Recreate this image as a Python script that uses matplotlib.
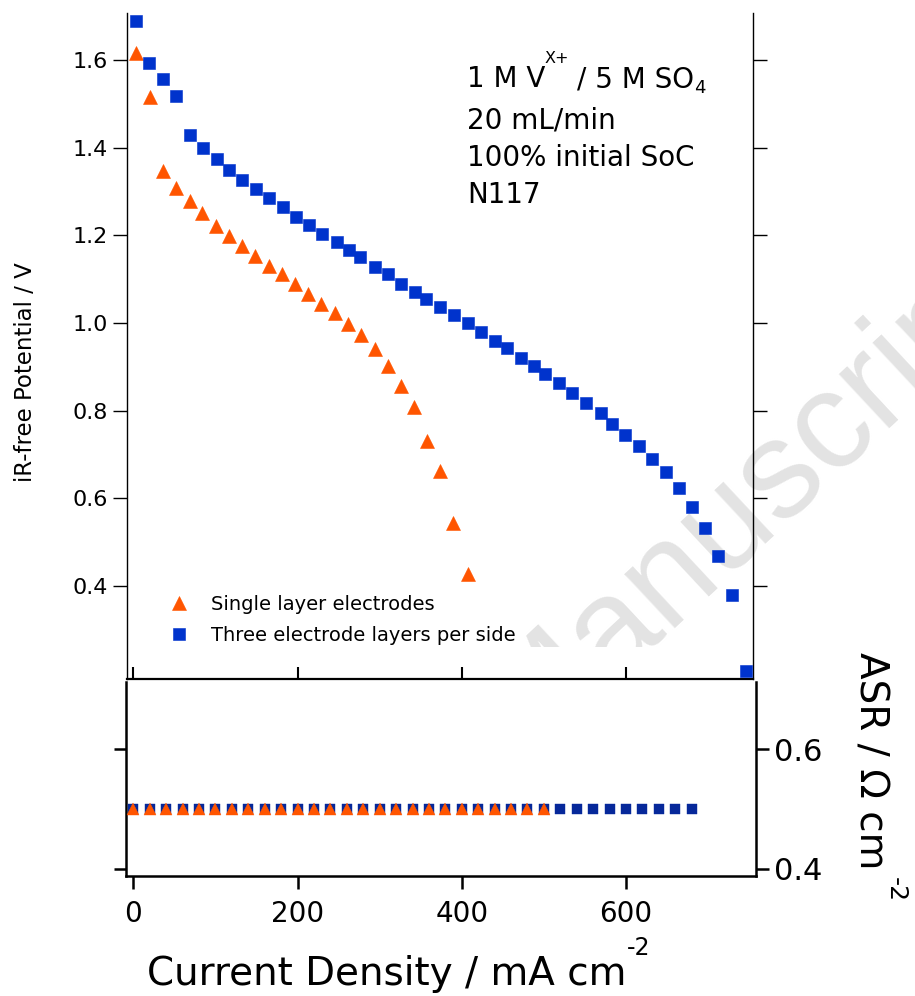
import matplotlib
matplotlib.use("Agg")
import matplotlib.pyplot as plt
from matplotlib.transforms import Bbox, TransformedBbox

# ---------------- data ----------------
single_x = [3, 20, 35.5, 52, 69, 83.5, 100, 116, 132, 148.5, 165, 181, 196.5, 212.5,
            229, 245, 261, 277, 294, 310, 325.5, 342, 358, 374, 389.5, 407]
single_v = [1.615, 1.516, 1.347, 1.307, 1.278, 1.250, 1.221, 1.198, 1.175, 1.152,
            1.130, 1.111, 1.090, 1.067, 1.044, 1.022, 0.997, 0.973, 0.941, 0.901,
            0.857, 0.808, 0.730, 0.663, 0.544, 0.427]

three_x = [3.4, 19.3, 35.9, 51.8, 68.8, 84.3, 101.3, 116.7, 132.5, 149.2, 165, 181.7,
           197.9, 214, 230.3, 247.5, 262, 275.9, 294, 310, 326.5, 343, 356.5, 373,
           391, 408, 423.5, 440.7, 455.3, 471.8, 487.5, 501.7, 518.4, 534, 550.8, 569,
           583.2, 599.2, 615.9, 631.5, 648.2, 665, 680.8, 696.6, 711.7, 729, 746]
three_v = [1.688, 1.593, 1.556, 1.518, 1.429, 1.400, 1.373, 1.349, 1.326, 1.306, 1.285,
           1.265, 1.242, 1.223, 1.204, 1.185, 1.166, 1.150, 1.128, 1.112, 1.090, 1.071,
           1.054, 1.036, 1.018, 0.999, 0.980, 0.958, 0.942, 0.921, 0.902, 0.883, 0.862,
           0.840, 0.818, 0.794, 0.770, 0.745, 0.719, 0.689, 0.659, 0.623, 0.581, 0.533,
           0.469, 0.379, 0.206]

asr_single_x = [0, 20, 40, 60, 80, 100, 120, 140, 160, 180, 200, 220, 240, 260, 280,
                300, 320, 340, 360, 380, 400, 420, 440, 460, 480, 500]
asr_single = [0.5] * len(asr_single_x)
asr_three_x = [0, 20, 40, 60, 80, 100, 120, 140, 160, 180, 200, 220, 240, 260, 280,
               300, 320, 340, 360, 380, 400, 420, 440, 460, 480, 500, 520, 540, 560,
               580, 600, 620, 640, 660, 680]
asr_three = [0.5] * len(asr_three_x)

v_ticks = [0.4, 0.6, 0.8, 1.0, 1.2, 1.4, 1.6]
v_ticklabels = ["0.4", "0.6", "0.8", "1.0", "1.2", "1.4", "1.6"]
x_ticks = [0, 200, 400, 600]
asr_ticks = [0.4, 0.6]
asr_ticklabels = ["0.4", "0.6"]

label_single = "Single layer electrodes"
label_three = "Three electrode layers per side"
notes = ["20 mL/min", "100% initial SoC", "N117"]

ORANGE = "#ff5500"
BLUE = "#0033cc"
NAVY = "#06289a"

plt.rcParams['font.family'] = ['DejaVu Sans']
W, H = 915, 996
fig = plt.figure(figsize=(W / 100, H / 100), dpi=100)
renderer = fig.canvas.get_renderer()


def fx(px):
    return px / W


def fy(py):
    return 1 - py / H


# watermark (behind everything)
wm = fig.text(fx(525), fy(758), "Manuscript", fontsize=100, color="#e3e3e3",
              family="Liberation Sans", rotation=43, rotation_mode="anchor",
              ha="left", va="baseline", zorder=-5)
wm.set_clip_box(TransformedBbox(Bbox([[0, fy(647)], [1, 1]]), fig.transFigure))
wm.set_clip_on(True)

# ---------------- top panel ----------------
ax = fig.add_axes([fx(127), fy(679), (753 - 127) / W, (679 - 13) / H])
ax.set_facecolor("none")
ax.plot(single_x, single_v, ls="none", marker="^", ms=9.8, color=ORANGE, mec=ORANGE,
        mew=0.4, label=label_single, zorder=3)
ax.plot(three_x, three_v, ls="none", marker="s", ms=9.0, color=BLUE, mec=BLUE,
        mew=0.4, label=label_three, zorder=3)
ax.set_xlim(-7.8, 754.7)
ax.set_ylim(0.1878, 1.7072)
ax.spines["top"].set_visible(False)
for s in ("left", "right"):
    ax.spines[s].set_linewidth(1.0)
ax.spines["bottom"].set_linewidth(1.6)
ax.set_yticks(v_ticks)
ax.set_yticklabels(v_ticklabels)
ax.yaxis.set_ticks_position("both")
ax.tick_params(axis="y", direction="out", labelleft=True, labelright=False,
               length=10, width=1.0, labelsize=16, pad=3.5)
ax.set_xticks(x_ticks)
ax.tick_params(axis="x", direction="in", bottom=True, top=False, labelbottom=False,
               length=9, width=1.5)

ax.legend(loc="upper left", bbox_to_anchor=(fx(169), fy(595)),
          bbox_transform=fig.transFigure, frameon=False, fontsize=14,
          handlelength=1.0, handletextpad=1.15, borderpad=0, borderaxespad=0,
          labelspacing=0.6, markerscale=1.0)

# annotation text: first line built from pieces (superscript / subscript)
t1 = fig.text(fx(467), fy(87), "1 M V", fontsize=20, ha="left", va="baseline")
e1 = t1.get_window_extent(renderer)
t2 = fig.text((e1.x1 - 1) / W, fy(63), "X+", fontsize=11.5, ha="left", va="baseline")
e2 = t2.get_window_extent(renderer)
t3 = fig.text((e2.x1 + 8) / W, fy(87), "/ 5 M SO", fontsize=20, ha="left",
              va="baseline")
e3 = t3.get_window_extent(renderer)
fig.text((e3.x1 + 0.5) / W, fy(93), "4", fontsize=13, ha="left", va="baseline")
for i, t in enumerate(notes):
    fig.text(fx(467), fy(128 + 37.5 * i), t, fontsize=20, ha="left", va="baseline")

fig.text(fx(26), fy(372), "iR-free Potential / V", fontsize=16.5, rotation=90,
         ha="center", va="center")

# ---------------- bottom panel ----------------
bx = fig.add_axes([fx(126), fy(876), (756 - 126) / W, (876 - 682) / H])
bx.set_facecolor("none")
bx.plot(asr_three_x, asr_three, ls="none", marker="s", ms=6.8, color=NAVY, mec=NAVY,
        mew=0.3, zorder=3)
bx.plot(asr_single_x, asr_single, ls="none", marker="^", ms=8.2, color=ORANGE,
        mec=ORANGE, mew=0.3, zorder=4)
bx.set_xlim(-9.0, 758.3)
bx.set_ylim(0.3883, 0.7117)
bx.spines["top"].set_visible(False)
for s in ("left", "right", "bottom"):
    bx.spines[s].set_linewidth(1.8)
bx.set_xticks(x_ticks)
bx.tick_params(axis="x", direction="out", length=9, width=1.8, labelsize=20, pad=8)
bx.set_yticks(asr_ticks)
bx.set_yticklabels(asr_ticklabels)
bx.yaxis.set_ticks_position("both")
bx.tick_params(axis="y", direction="out", length=9, width=1.8, labelleft=False,
               labelright=True, labelsize=22, pad=4)

# axis labels
fig.text(fx(386.5), fy(985), "Current Density / mA cm", fontsize=28, ha="center",
         va="baseline")
fig.text(fx(627), fy(955), "-2", fontsize=17, ha="left", va="baseline")
fig.text(fx(860), fy(652), "ASR / \u03a9 cm", fontsize=28, rotation=270,
         rotation_mode="anchor", ha="left", va="baseline")
fig.text(fx(889), fy(877), "-2", fontsize=18, rotation=270, rotation_mode="anchor",
         ha="left", va="baseline")

fig.savefig("out.png", dpi=100)
